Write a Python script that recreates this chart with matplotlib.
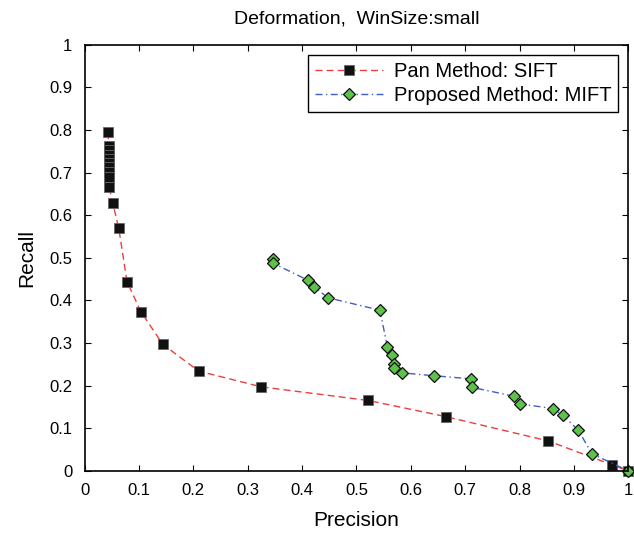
import matplotlib
matplotlib.use("Agg")
import matplotlib.pyplot as plt

plt.rcParams['font.family'] = ['Liberation Sans', 'DejaVu Sans']

# Pan Method: SIFT
sift_p = [0.043, 0.044, 0.044, 0.044, 0.044, 0.044, 0.044, 0.044, 0.044, 0.045,
          0.0515, 0.0625, 0.078, 0.1036, 0.1435, 0.2097, 0.325, 0.522, 0.665,
          0.853, 0.970, 1.0]
sift_r = [0.795, 0.762, 0.752, 0.742, 0.732, 0.722, 0.712, 0.702, 0.690, 0.666,
          0.629, 0.570, 0.443, 0.373, 0.297, 0.234, 0.197, 0.165, 0.127,
          0.070, 0.014, 0.0]

# Proposed Method: MIFT
mift_p = [0.347, 0.347, 0.411, 0.422, 0.448, 0.543, 0.557, 0.566, 0.569, 0.569,
          0.583, 0.643, 0.710, 0.712, 0.790, 0.801, 0.862, 0.879, 0.908, 0.933, 1.0]
mift_r = [0.496, 0.487, 0.447, 0.431, 0.406, 0.377, 0.290, 0.271, 0.250, 0.241,
          0.230, 0.223, 0.216, 0.196, 0.175, 0.157, 0.146, 0.131, 0.0955, 0.040, 0.0]

ticks = [0, 0.1, 0.2, 0.3, 0.4, 0.5, 0.6, 0.7, 0.8, 0.9, 1]
tick_labels = ['0', '0.1', '0.2', '0.3', '0.4', '0.5', '0.6', '0.7', '0.8', '0.9', '1']

fig = plt.figure(figsize=(6.34, 5.35), dpi=100)
ax = fig.add_axes([0.1336, 0.120, 0.8574, 0.7964])

ax.plot(sift_p, sift_r, linestyle='--', dashes=(5, 3), color='#e8403c', linewidth=1.0,
        marker='s', markersize=7.5, markerfacecolor='#111111',
        markeredgecolor='#666666', markeredgewidth=0.6,
        label='Pan Method: SIFT', clip_on=False)
ax.plot(mift_p, mift_r, linestyle='-.', dashes=(5, 2.5, 1, 2.5), color='#3f5fc4',
        linewidth=1.0, marker='D', markersize=6, markerfacecolor='#5ec24a',
        markeredgecolor='#111111', markeredgewidth=0.9,
        label='Proposed Method: MIFT', clip_on=False)

ax.set_xlim(0, 1)
ax.set_ylim(0, 1)
ax.set_xticks(ticks)
ax.set_xticklabels(tick_labels)
ax.set_yticks(ticks)
ax.set_yticklabels(tick_labels)
ax.tick_params(direction='in', top=True, right=True, length=4, width=0.8,
               labelsize=12, pad=9)
for s in ax.spines.values():
    s.set_linewidth(1.2)

ax.set_xlabel('Precision', fontsize=15, labelpad=9)
ax.set_ylabel('Recall', fontsize=15, labelpad=9)
ax.set_title('Deformation,  WinSize:small', fontsize=14, pad=15)

leg = ax.legend(loc='upper right', fontsize=14.5, fancybox=False,
                edgecolor='black', framealpha=1, borderaxespad=0.5,
                handlelength=3.4, handletextpad=0.5, borderpad=0.35,
                labelspacing=0.25)
leg.get_frame().set_linewidth(1.0)

fig.savefig('out.png', dpi=100)
